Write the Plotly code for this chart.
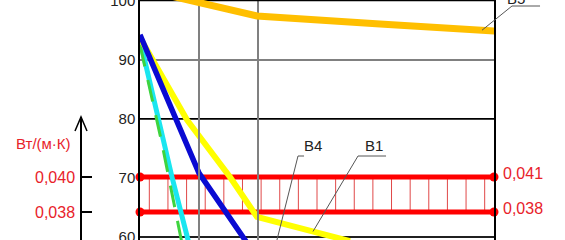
import numpy as np
import plotly.graph_objects as go

# ---------------- data ----------------
y_ticks = [60, 70, 80, 90, 100]
black_grid_y = [60, 80, 100]
black_grid_x = [1]
grey_grid_x = [1, 2]

k_ticks = [0.038, 0.040]
k_unit = "Вт/(м·К)"
band_levels = [0.040, 0.038]
band_labels = ["0,041", "0,038"]

blue_x = [0, 1.0, 1.78, 1.90]
blue_y = [94.2, 70.8, 59.5, 57.6]
yellow_x = [0, 0.797, 1.525, 1.983, 2.712, 3.56]
yellow_y = [93.7, 79.8, 70.15, 63.4, 61.5, 59.3]
cyan_x = [0, 0.305, 0.542, 0.814, 0.85]
cyan_y = [93.3, 79.8, 70.15, 59.5, 58.1]
green_x = [0, 0.36, 0.70, 0.735]
green_y = [92.5, 76.4, 59.5, 57.8]
orange_x = [0.508, 0.932, 1.983, 4.068, 6.017]
orange_y = [100.8, 99.75, 97.38, 96.03, 94.84]

labels = ["В4", "В1", "В5"]

# ---------------- axes geometry ----------------
X_RANGE = [0, 6]
Y_RANGE = [59.493, 100.085]
K_RANGE = [0.0364, 0.043429]
K_DOM = [0, 123 / 240]
XDOM = [140 / 565, 494 / 565]

RED = "#ff0000"
RED_TXT = "#e8222a"
GREY = "#808080"
INK = "#222222"


def xd(x):
    return (x - X_RANGE[0]) / (X_RANGE[1] - X_RANGE[0])


def yd(y):
    return (y - Y_RANGE[0]) / (Y_RANGE[1] - Y_RANGE[0])


def k_to_y(k):
    # secondary (conductivity) scale -> main y scale
    frac = K_DOM[0] + (k - K_RANGE[0]) / (K_RANGE[1] - K_RANGE[0]) * (K_DOM[1] - K_DOM[0])
    return Y_RANGE[0] + frac * (Y_RANGE[1] - Y_RANGE[0])


fig = go.Figure()

# red band (conductivity range) with hatching
hatch_x = (np.arange(19) + 0.5) * (X_RANGE[1] - X_RANGE[0]) / 19
hx, hy = [], []
for v in hatch_x:
    hx += [v, v, None]
    hy += [k_to_y(band_levels[1]), k_to_y(band_levels[0]), None]
fig.add_trace(go.Scatter(x=hx, y=hy, mode="lines",
                         line=dict(color="#e04848", width=1), hoverinfo="skip"))
for lvl in band_levels:
    fig.add_trace(go.Scatter(x=X_RANGE, y=[k_to_y(lvl)] * 2, mode="lines+markers",
                             line=dict(color=RED, width=5),
                             marker=dict(color=RED, size=9), cliponaxis=False))

# curves
fig.add_trace(go.Scatter(x=cyan_x, y=cyan_y, mode="lines",
                         line=dict(color="#1ae6f0", width=5)))
fig.add_trace(go.Scatter(x=green_x, y=green_y, mode="lines",
                         line=dict(color="#3ed43e", width=3, dash="22px,14px")))
fig.add_trace(go.Scatter(x=yellow_x, y=yellow_y, mode="lines",
                         line=dict(color="#ffff00", width=6)))
fig.add_trace(go.Scatter(x=blue_x, y=blue_y, mode="lines",
                         line=dict(color="#0a0ad2", width=5.5)))
fig.add_trace(go.Scatter(x=orange_x, y=orange_y, mode="lines",
                         line=dict(color="#ffbf00", width=7)))

# carrier of the secondary axis (no visible marks)
fig.add_trace(go.Scatter(x=[None], y=[None], yaxis="y2", mode="lines", hoverinfo="skip"))

shapes = []
for gy in black_grid_y:
    shapes.append(dict(type="line", xref="x", yref="y", x0=X_RANGE[0], x1=X_RANGE[1],
                       y0=gy, y1=gy, line=dict(color="black", width=1.5), layer="between"))
for gx in black_grid_x:
    shapes.append(dict(type="line", xref="x", yref="paper", x0=gx, x1=gx,
                       y0=0, y1=1, line=dict(color="black", width=1.5), layer="between"))

# leader lines for curve labels
b4_tail = (2.27, 57.46)
b4_knee = (2.678, 73.7)
b4_end = 2.78
b1_from_x = 2.932
b1_tail = (b1_from_x, float(np.interp(b1_from_x, yellow_x, yellow_y)))
b1_knee = (3.695, 73.7)
b1_end = 4.17
b5_from_x = 5.797
b5_tail = (b5_from_x, float(np.interp(b5_from_x, orange_x, orange_y)))
b5_knee = (6.305, 99.07)
b5_end = 6.78
leaders = [(b4_tail, b4_knee, b4_end), (b1_tail, b1_knee, b1_end), (b5_tail, b5_knee, b5_end)]
label_pos = [(2.93, 75.4, "middle"), (3.966, 75.4, "middle"), (6.56, 98.6, "bottom")]
for (t, k, e) in leaders:
    shapes.append(dict(type="path", xref="x domain", yref="y domain",
                       path=f"M{xd(t[0])},{yd(t[1])} L{xd(k[0])},{yd(k[1])} L{xd(e)},{yd(k[1])}",
                       line=dict(color="#555555", width=1)))

# arrowhead of secondary axis
tip_x, tip_y = 81 / 565, 1 - 117 / 240
shapes.append(dict(type="path", xref="paper", yref="paper",
                   path=f"M{75/565},{1-131/240} L{tip_x},{tip_y} L{87/565},{1-131/240}",
                   line=dict(color="black", width=1.5)))

annotations = []
for txt, (lx, ly, ya) in zip(labels, label_pos):
    annotations.append(dict(text=txt, xref="x domain", yref="y domain", x=xd(lx), y=yd(ly),
                            yanchor=ya, showarrow=False, font=dict(size=15, color=INK)))
for txt, lvl in zip(band_labels, band_levels):
    annotations.append(dict(text=txt, xref="x", yref="y", x=X_RANGE[1], y=k_to_y(lvl),
                            xanchor="left", yanchor="middle", xshift=7, yshift=4,
                            showarrow=False, font=dict(size=16, color=RED_TXT)))
annotations.append(dict(text=k_unit, xref="paper", yref="paper", x=73 / 565, y=1 - 143 / 240,
                        xanchor="right", yanchor="middle", showarrow=False,
                        font=dict(size=15, color=RED_TXT)))

fig.update_layout(
    width=565, height=240, margin=dict(l=0, r=0, t=0, b=0),
    paper_bgcolor="white", plot_bgcolor="rgba(0,0,0,0)", showlegend=False,
    separators=",.",
    font=dict(family="Liberation Sans, Arial, sans-serif", size=15, color=INK),
    xaxis=dict(domain=XDOM, range=X_RANGE, tickvals=grey_grid_x, showticklabels=False,
               showgrid=True, gridcolor=GREY, gridwidth=1.5, zeroline=False, showline=False,
               ticks="", automargin=False),
    yaxis=dict(domain=[0, 1], range=Y_RANGE, tickvals=y_ticks, showgrid=True,
               gridcolor=GREY, gridwidth=1.5, zeroline=False, showline=True, mirror=True,
               linecolor="black", linewidth=1.5, ticks="", ticklabeloverflow="allow",
               automargin=False, tickfont=dict(size=15, color=INK)),
    yaxis2=dict(anchor="free", position=81 / 565, side="left", domain=K_DOM,
                range=K_RANGE, tickvals=k_ticks, tickformat=".3f", ticks="inside",
                ticklen=10, tickwidth=2, tickcolor="black", showline=True, linecolor="black",
                linewidth=1.5, showgrid=False, zeroline=False, automargin=False,
                ticklabelstandoff=2, tickfont=dict(size=16, color=RED_TXT)),
    shapes=shapes, annotations=annotations,
)

fig.write_html("out.html")
